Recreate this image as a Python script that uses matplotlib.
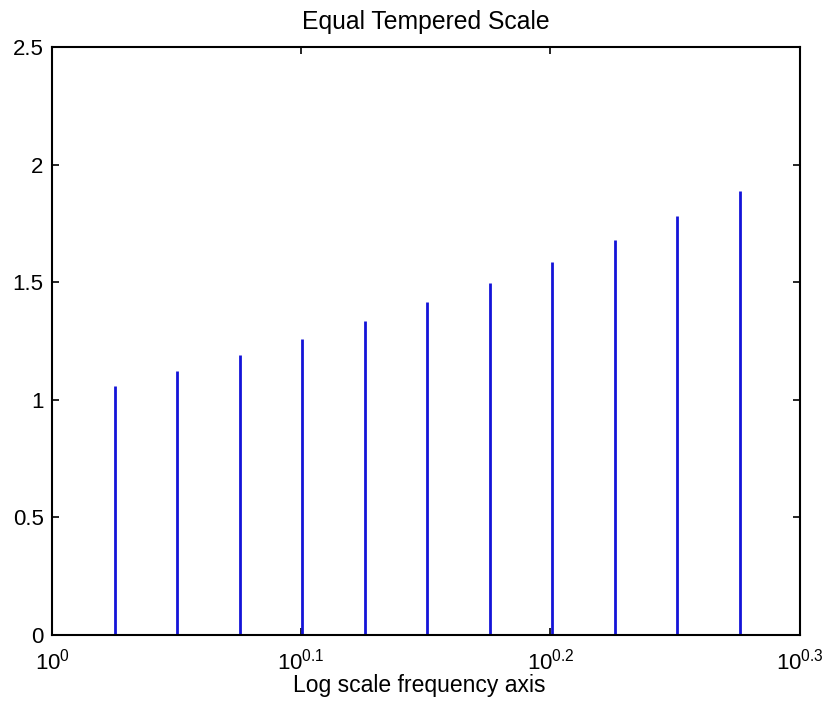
import matplotlib
matplotlib.use("Agg")
import matplotlib.pyplot as plt
import numpy as np

plt.rcParams['font.family'] = ['Liberation Sans', 'DejaVu Sans']
plt.rcParams['mathtext.fontset'] = 'custom'
plt.rcParams['mathtext.rm'] = 'Liberation Sans'
plt.rcParams['mathtext.default'] = 'regular'

# Equal tempered semitone ratios
freqs = [1.0595, 1.1225, 1.1892, 1.2599, 1.3348, 1.4142,
         1.4983, 1.5874, 1.6818, 1.7818, 1.8877]
heights = [1.0595, 1.1225, 1.1892, 1.2599, 1.3348, 1.4142,
           1.4983, 1.5874, 1.6818, 1.7818, 1.8877]
xtick_exps = [0, 0.1, 0.2, 0.3]
xtick_labels = [r'$10^{0}$', r'$10^{0.1}$', r'$10^{0.2}$', r'$10^{0.3}$']
yticks = [0, 0.5, 1, 1.5, 2, 2.5]
ytick_labels = ['0', '0.5', '1', '1.5', '2', '2.5']

fig = plt.figure(figsize=(8.27, 7.04), dpi=100)
ax = fig.add_axes([0.0629, 0.098, 0.9041, 0.835])

ax.vlines(freqs, 0, heights, colors='#1414d8', linewidth=2)
ax.set_xscale('log')
ax.set_xlim(1, 10 ** 0.3)
ax.set_ylim(0, 2.5)
ax.set_xticks([10 ** e for e in xtick_exps])
ax.set_xticklabels(xtick_labels)
ax.xaxis.set_minor_locator(matplotlib.ticker.NullLocator())
ax.set_yticks(yticks)
ax.set_yticklabels(ytick_labels)

ax.tick_params(direction='in', top=True, right=True, length=5, width=1.2,
               labelsize=16, colors='black')
ax.tick_params(axis='x', pad=10)
ax.tick_params(axis='y', pad=6)
for s in ax.spines.values():
    s.set_linewidth(1.5)

ax.set_title('Equal Tempered Scale', fontsize=17.8, pad=13)
ax.set_xlabel('Log scale frequency axis', fontsize=16.5)
ax.xaxis.set_label_coords(0.4906, -0.067)
ax.xaxis.label.set_va('top')

fig.savefig('out.png', dpi=100)
